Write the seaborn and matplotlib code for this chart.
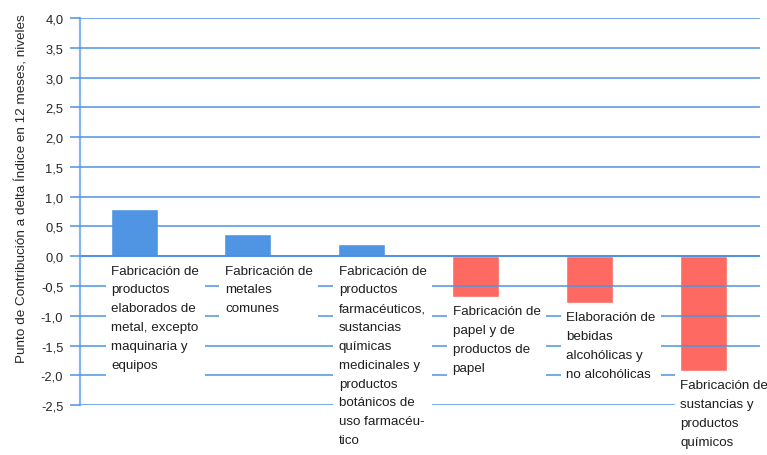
#!/usr/bin/env python3

import matplotlib
matplotlib.use("Agg")
import matplotlib.pyplot as plt
import seaborn as sns

categorias = [
    "Fabricación de\nproductos\nelaborados de\nmetal, excepto\nmaquinaria y\nequipos",
    "Fabricación de\nmetales\ncomunes",
    "Fabricación de\nproductos\nfarmacéuticos,\nsustancias\nquímicas\nmedicinales y\nproductos\nbotánicos de\nuso farmacéu-\ntico",
    "Fabricación de\npapel y de\nproductos de\npapel",
    "Elaboración de\nbebidas\nalcohólicas y\nno alcohólicas",
    "Fabricación de\nsustancias y\nproductos\nquímicos",
]
valores = [0.79, 0.37, 0.20, -0.68, -0.78, -1.93]
y_ticks = [-2.5, -2.0, -1.5, -1.0, -0.5, 0.0, 0.5, 1.0, 1.5, 2.0, 2.5, 3.0, 3.5, 4.0]

AZUL = "#4f95e3"
ROJO = "#fe6961"
LINEA = "#4f93e2"

sns.set_style("white")
plt.rcParams["font.family"] = ["Liberation Sans", "DejaVu Sans"]

fig = plt.figure(figsize=(7.67, 4.56), dpi=100)
ax = fig.add_axes([0.1043, 0.1096, 0.8867, 0.8484])

ids = [f"c{i}" for i in range(len(valores))]
colores = [AZUL if v >= 0 else ROJO for v in valores]
sns.barplot(x=ids, y=valores, hue=ids, palette=colores, legend=False,
            width=0.413, saturation=1, ax=ax, zorder=1)

ax.set_ylim(-2.5, 4.0)
ax.set_xlim(-0.475, len(valores) - 0.5)
ax.set_yticks(y_ticks)
ax.set_yticklabels([f"{t:.1f}".replace(".", ",") for t in y_ticks], fontsize=9.3)
ax.set_xticks([])
ax.set_xlabel("")
ax.set_ylabel("Punto de Contribución a delta Índice en 12 meses, niveles",
              fontsize=9.7)
ax.yaxis.set_label_coords(-0.076, 0.563)

ax.set_axisbelow(False)
ax.grid(axis="y", color=LINEA, linewidth=1.1, zorder=2)
ax.axhline(0, color="#3a7fd9", linewidth=1.2, zorder=2)
ax.tick_params(axis="y", length=7, color=LINEA, width=1.1, pad=5, left=True)

for s in ["top", "right", "bottom"]:
    ax.spines[s].set_visible(False)
ax.spines["left"].set_color("#86b6ee")
ax.spines["left"].set_linewidth(1.6)

# etiquetas bajo cada barra con fondo blanco
for bar, texto, v in zip(ax.patches, categorias, valores):
    y0 = min(v, 0) - 0.14
    ax.text(bar.get_x() + 0.005, y0, texto, ha="left", va="top",
            fontsize=9.6, linespacing=1.76, color="#1e1e1e", zorder=4,
            clip_on=False,
            bbox=dict(facecolor="white", edgecolor="none", pad=4.0))

fig.savefig("out.png", dpi=100)
plt.close(fig)
